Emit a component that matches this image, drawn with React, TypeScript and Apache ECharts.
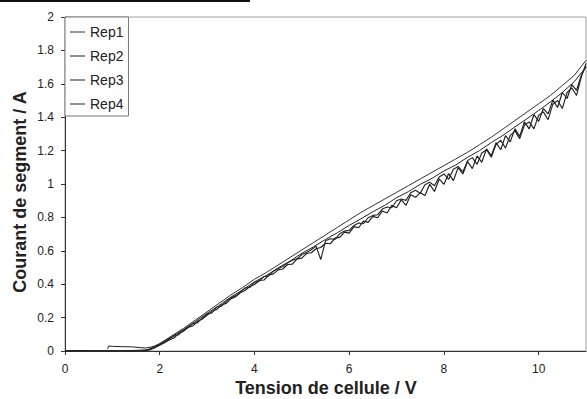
import React, { useEffect, useRef } from "react";
import * as echarts from "echarts";

const SERIES_NAMES = ["Rep1", "Rep2", "Rep3", "Rep4"];

const VOLT_REP1 = [
  0, 0.4, 0.8, 1.2, 1.5, 1.75,
  2.0, 2.25, 2.5, 2.75, 3.0, 3.25, 3.5, 3.75, 4.0, 4.25, 4.5, 4.75,
  5.0, 5.25, 5.5, 5.75, 6.0, 6.25, 6.5, 6.75, 7.0, 7.25, 7.5, 7.75,
  8.0, 8.25, 8.5, 8.75, 9.0, 9.25, 9.5, 9.75, 10.0, 10.25, 10.5, 10.75, 11.0,
];
const CURR_REP1 = [
  0.002, 0.003, 0.001, 0.002, 0.004, 0.008,
  0.045, 0.09, 0.135, 0.185, 0.235, 0.285, 0.335, 0.38, 0.43, 0.47, 0.515, 0.56,
  0.605, 0.65, 0.695, 0.74, 0.785, 0.83, 0.87, 0.91, 0.95, 0.99, 1.03, 1.07,
  1.11, 1.15, 1.19, 1.235, 1.28, 1.33, 1.38, 1.43, 1.48, 1.53, 1.59, 1.65, 1.74,
];

const VOLT_REP2 = [
  0.9, 0.92, 1.0, 1.2, 1.4, 1.6, 1.7, 1.8, 1.9,
  2.0, 2.25, 2.5, 2.75, 3.0, 3.25, 3.5, 3.75, 4.0, 4.25, 4.5, 4.75,
  5.0, 5.25, 5.5, 5.75, 6.0, 6.25, 6.5, 6.75, 7.0, 7.25, 7.5, 7.75,
  8.0, 8.25, 8.5, 8.75, 9.0, 9.25, 9.5, 9.75, 10.0, 10.25, 10.5, 10.75, 11.0,
];
const CURR_REP2 = [
  0.012, 0.030, 0.028, 0.026, 0.025, 0.020, 0.018, 0.022, 0.030,
  0.042, 0.085, 0.128, 0.176, 0.226, 0.272, 0.322, 0.366, 0.414, 0.452, 0.498, 0.538,
  0.585, 0.624, 0.668, 0.708, 0.752, 0.792, 0.834, 0.872, 0.918, 0.954, 0.998, 1.034,
  1.078, 1.114, 1.160, 1.200, 1.248, 1.292, 1.342, 1.390, 1.440, 1.492, 1.548, 1.612, 1.700,
];

const VOLT_FINE = [
  0, 0.4, 0.8, 1.2,
  1.6, 1.7, 1.8, 1.9,
  2.0, 2.1, 2.2, 2.3, 2.4, 2.5, 2.6, 2.7, 2.8, 2.9,
  3.0, 3.1, 3.2, 3.3, 3.4, 3.5, 3.6, 3.7, 3.8, 3.9,
  4.0, 4.1, 4.2, 4.3, 4.4, 4.5, 4.6, 4.7, 4.8, 4.9,
  5.0, 5.1, 5.2, 5.3, 5.4, 5.5, 5.6, 5.7, 5.8, 5.9,
  6.0, 6.1, 6.2, 6.3, 6.4, 6.5, 6.6, 6.7, 6.8, 6.9,
  7.0, 7.1, 7.2, 7.3, 7.4, 7.5, 7.6, 7.7, 7.8, 7.9,
  8.0, 8.1, 8.2, 8.3, 8.4, 8.5, 8.6, 8.7, 8.8, 8.9,
  9.0, 9.1, 9.2, 9.3, 9.4, 9.5, 9.6, 9.7, 9.8, 9.9,
  10.0, 10.1, 10.2, 10.3, 10.4, 10.5, 10.6, 10.7, 10.8, 10.9,
  11.0,
];
const CURR_REP3 = [
  0.001, 0.002, 0.0, 0.001,
  0.0, 0.002, 0.008, 0.02,
  0.034, 0.05, 0.066, 0.078, 0.104, 0.118, 0.142, 0.15, 0.178, 0.192,
  0.214, 0.236, 0.248, 0.275, 0.284, 0.312, 0.325, 0.349, 0.362, 0.386,
  0.398, 0.422, 0.425, 0.455, 0.462, 0.486, 0.491, 0.518, 0.52, 0.552,
  0.556, 0.584, 0.588, 0.612, 0.62, 0.645, 0.642, 0.676, 0.68, 0.712,
  0.706, 0.745, 0.738, 0.778, 0.77, 0.806, 0.798, 0.838, 0.826, 0.872,
  0.858, 0.905, 0.872, 0.935, 0.92, 0.948, 0.931, 0.998, 0.955, 1.03,
  0.998, 1.062, 1.02, 1.098, 1.06, 1.135, 1.092, 1.168, 1.13, 1.21,
  1.168, 1.248, 1.205, 1.29, 1.252, 1.33, 1.285, 1.372, 1.33, 1.415,
  1.375, 1.452, 1.42, 1.502, 1.458, 1.548, 1.512, 1.595, 1.56, 1.65,
  1.705,
];
const CURR_REP4 = [
  0.0, 0.001, 0.002, 0.0,
  0.001, 0.003, 0.012, 0.024,
  0.04, 0.052, 0.072, 0.09, 0.098, 0.126, 0.14, 0.164, 0.17, 0.198,
  0.222, 0.228, 0.262, 0.268, 0.296, 0.318, 0.33, 0.352, 0.378, 0.38,
  0.412, 0.418, 0.446, 0.45, 0.478, 0.494, 0.506, 0.528, 0.544, 0.552,
  0.578, 0.59, 0.606, 0.628, 0.548, 0.66, 0.672, 0.668, 0.702, 0.718,
  0.722, 0.752, 0.766, 0.762, 0.798, 0.812, 0.816, 0.85, 0.862, 0.858,
  0.9, 0.91, 0.902, 0.948, 0.962, 0.944, 0.995, 1.01, 0.99, 1.042,
  1.06, 1.028, 1.088, 1.105, 1.072, 1.14, 1.158, 1.118, 1.186, 1.205,
  1.16, 1.236, 1.262, 1.215, 1.29, 1.318, 1.272, 1.352, 1.372, 1.33,
  1.412, 1.432, 1.385, 1.478, 1.5, 1.452, 1.548, 1.575, 1.53, 1.64,
  1.722,
];

const X_TITLE = "Tension de cellule / V";
const Y_TITLE = "Courant de segment / A";

const FONT = '"Liberation Sans", Arial, sans-serif';

function pairs(xs: number[], ys: number[]) {
  return xs.map((x, i) => [x, ys[i]]);
}

export default function App() {
  const ref = useRef<HTMLDivElement>(null);
  useEffect(() => {
    document.body.style.margin = "0";
    const chart = echarts.init(ref.current!, null, { renderer: "svg" });
    const lineColors = ["#333", "#222", "#1c1c1c", "#262626"];
    const lineWidths = [1, 1, 1.15, 1.15];
    const dataSets = [
      pairs(VOLT_REP1, CURR_REP1),
      pairs(VOLT_REP2, CURR_REP2),
      pairs(VOLT_FINE, CURR_REP3),
      pairs(VOLT_FINE, CURR_REP4),
    ];
    chart.setOption({
      animation: false,
      grid: {
        left: 65,
        right: 1,
        top: 17,
        bottom: 48,
        show: true,
        borderColor: "#a0a0a0",
        borderWidth: 1,
      },
      legend: {
        data: SERIES_NAMES,
        orient: "vertical",
        left: 65,
        top: 17,
        backgroundColor: "#fff",
        borderColor: "#777",
        borderWidth: 1,
        padding: [8, 5, 5, 5],
        itemGap: 10,
        itemWidth: 15,
        itemHeight: 1,
        icon: "rect",
        textStyle: { fontSize: 14, color: "#222", fontFamily: FONT },
      },
      xAxis: {
        type: "value",
        min: 0,
        max: 11,
        interval: 2,
        axisLine: { show: true, lineStyle: { color: "#333", width: 1 } },
        axisTick: { show: true, length: 4, lineStyle: { color: "#333" } },
        splitLine: { show: false },
        axisLabel: {
          color: "#222",
          fontSize: 12,
          fontFamily: FONT,
          margin: 12,
          showMaxLabel: false,
        },
      },
      yAxis: {
        type: "value",
        min: 0,
        max: 2,
        interval: 0.2,
        axisLine: { show: true, lineStyle: { color: "#333", width: 1 } },
        axisTick: { show: true, length: 4, lineStyle: { color: "#333" } },
        splitLine: { show: false },
        axisLabel: {
          color: "#222",
          fontSize: 12,
          fontFamily: FONT,
          margin: 11,
        },
      },
      graphic: [
        {
          type: "rect",
          shape: { x: 0, y: 0, width: 250, height: 2 },
          style: { fill: "#111" },
          silent: true,
        },
        {
          type: "text",
          x: 326,
          y: 388,
          style: {
            text: X_TITLE,
            font: `bold 18px ${FONT}`,
            fill: "#222",
            align: "center",
            verticalAlign: "middle",
            textAlign: "center",
            textVerticalAlign: "middle",
          },
        },
        {
          type: "text",
          x: 20,
          y: 192,
          rotation: Math.PI / 2,
          style: {
            text: Y_TITLE,
            font: `bold 18px ${FONT}`,
            fill: "#222",
            align: "center",
            verticalAlign: "middle",
            textAlign: "center",
            textVerticalAlign: "middle",
          },
        },
      ],
      series: SERIES_NAMES.map((name, i) => ({
        name,
        type: "line",
        data: dataSets[i],
        symbol: "none",
        showSymbol: false,
        clip: true,
        lineStyle: { color: lineColors[i], width: lineWidths[i] },
        itemStyle: { color: lineColors[i] },
        z: 2,
      })),
    });
    return () => chart.dispose();
  }, []);
  return <div ref={ref} style={{ width: 587, height: 399 }} />;
}
